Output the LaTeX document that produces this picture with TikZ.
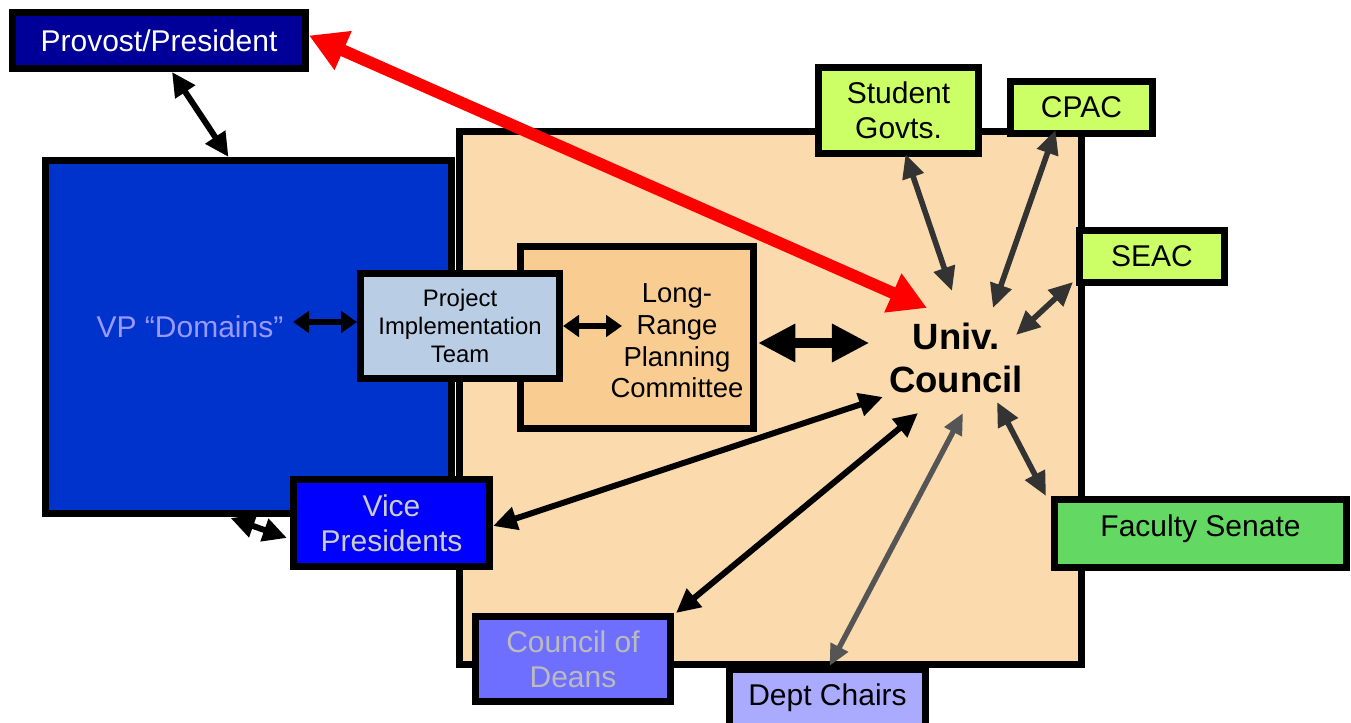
\documentclass[tikz,border=0pt]{standalone}
\usepackage{fontspec}
\setmainfont{Liberation Sans}
\usetikzlibrary{arrows.meta,calc}
\definecolor{navy}{RGB}{0,0,153}
\definecolor{vpdblue}{RGB}{0,51,204}
\definecolor{vpdtext}{RGB}{153,153,255}
\definecolor{peach}{RGB}{251,219,173}
\definecolor{lrpcfill}{RGB}{249,205,145}
\definecolor{pitfill}{RGB}{185,205,228}
\definecolor{lime}{RGB}{204,255,102}
\definecolor{fsgreen}{RGB}{99,216,99}
\definecolor{vpblue}{RGB}{0,0,255}
\definecolor{codblue}{RGB}{110,110,255}
\definecolor{dcblue}{RGB}{170,170,255}
\definecolor{lgray}{RGB}{204,204,204}
\definecolor{cgray}{RGB}{187,187,187}
\definecolor{dgray}{RGB}{51,51,51}
\definecolor{mgray}{RGB}{85,85,85}
\tikzset{
  bx/.style n args={2}{draw=black, line width=5.5pt, rectangle, inner sep=0pt,
    minimum width={#1*0.75pt-5.5pt}, minimum height={#2*0.75pt-5.5pt}, align=center},
  txt/.style={font=\fontsize{22.5}{26}\selectfont, align=center},
  pittxt/.style={font=\fontsize{17.9}{21}\selectfont},
  lrpctxt/.style={font=\fontsize{20.6}{23.8}\selectfont, align=center},
  uctxt/.style={font=\bfseries\fontsize{27.4}{32}\selectfont, align=center},
  link/.style={draw=black, line width=4.5pt, {Triangle[length=18pt,width=17pt]}-{Triangle[length=18pt,width=17pt]}},
  smalllink/.style={draw=black, line width=4pt, {Triangle[length=12pt,width=16pt]}-{Triangle[length=12pt,width=16pt]}},
  greylink/.style={draw=dgray, line width=4.2pt, {Triangle[length=18pt,width=16pt]}-{Triangle[length=18pt,width=16pt]}},
  midlink/.style={draw=mgray, line width=4pt, {Triangle[length=16pt,width=14pt]}-{Triangle[length=16pt,width=14pt]}},
  biglink/.style={draw=black, line width=7.5pt, {Triangle[length=28pt,width=27pt]}-{Triangle[length=28pt,width=27pt]}},
  redlink/.style={draw=red, line width=9pt, {Triangle[length=28pt,width=30pt]}-{Triangle[length=28pt,width=30pt]}}
}
\begin{document}
\begin{tikzpicture}[x=0.75pt,y=-0.75pt]
\useasboundingbox (0,0) rectangle (1351,723);
% big boxes
\node[bx={629}{540}, fill=peach] (area) at (770.5,398) {};
\node[bx={413}{360}, fill=vpdblue] (vpd) at (248.5,337) {};
\node[txt, text=vpdtext] (vpdt) at (190,327) {VP “Domains”};
\node[bx={240}{189}, fill=lrpcfill] (lrpc) at (637,337.5) {};
\node[lrpctxt] (lrpct) at (677,341) {Long-\\Range\\Planning\\Committee};
\node[bx={206}{112}, fill=pitfill, pittxt] (pit) at (460,326) {Project\\Implementation\\Team};
\node[uctxt] (uc) at (956,358) {Univ.\\Council};
% outer boxes
\node[bx={300}{63}, fill=navy, txt, text=white] (prov) at (159,40.5) {Provost/President};
\node[bx={167}{93}, fill=lime, txt] (sg) at (898.5,110.5) {Student\\Govts.};
\node[bx={149}{59}, fill=lime, txt] (cpac) at (1081.5,107.5) {CPAC};
\node[bx={152}{59}, fill=lime, txt] (seac) at (1152,256.5) {SEAC};
\node[bx={299}{75}, fill=fsgreen, txt] (fs) at (1200.5,533.5) {\raisebox{3.5pt}[\height][\depth]{Faculty Senate}};
\node[bx={203}{94}, fill=vpblue, txt, text=lgray] (vp) at (391.5,523) {Vice\\Presidents};
\node[bx={202}{92}, fill=codblue, txt, text=cgray] (cod) at (573,659) {Council of\\Deans};
\node[bx={203}{64}, fill=dcblue, txt] (dc) at (827.5,698) {Dept Chairs};
% connectors
\draw[link] ($(prov.south)+(13,0)$) -- ($(vpd.north)+(-20,0)$);
\draw[smalllink] ($(vpdt.east)+(5,-5)$) -- ($(pit.west)+(0,-4)$);
\draw[smalllink] (pit.east) -- ($(pit.east)+(59,0)$);
\draw[biglink] ($(lrpc.east)+(1,5.5)$) -- ($(uc.west)+(-15,-15)$);
\draw[greylink] ($(sg.south)+(7,-3)$) -- ($(uc)+(-4,-67)$);
\draw[greylink] ($(cpac.south)+(-26,-7)$) -- ($(uc)+(37,-50)$);
\draw[greylink] ($(seac.south west)+(-3,-4)$) -- ($(uc)+(60,-23)$);
\draw[greylink] ($(fs.north west)+(-5,0)$) -- ($(uc)+(41,44)$);
\draw[midlink] ($(dc.north)+(2,0)$) -- ($(uc)+(7,55)$);
\draw[link] ($(cod.north east)+(2,0)$) -- ($(uc)+(-38,55)$);
\draw[link] ($(vp.east)+(0,3)$) -- ($(uc)+(-73,39)$);
\draw[link] ($(vpd.south)+(-18,1)$) -- ($(vp.west)+(-3,15)$);
\draw[redlink] ($(prov.east)+(0,-5)$) -- ($(uc)+(-29,-50)$);
\end{tikzpicture}
\end{document}
